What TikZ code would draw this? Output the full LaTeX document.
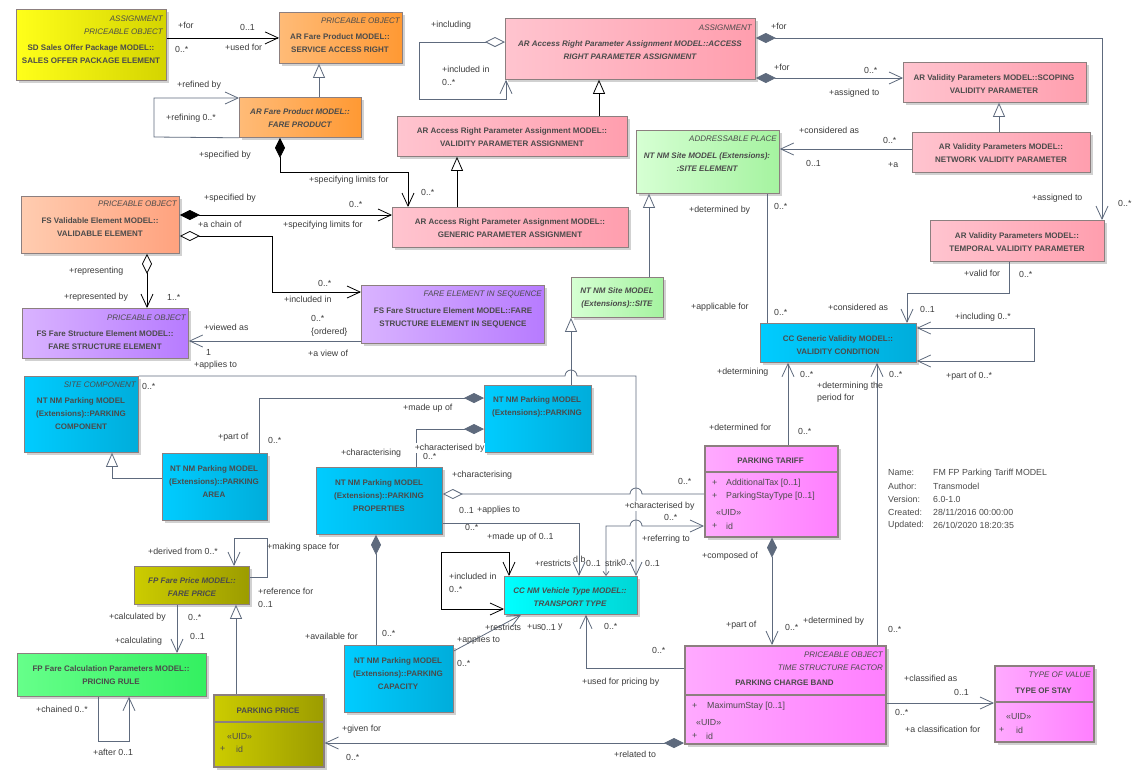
\documentclass[tikz,border=0pt]{standalone}
\usepackage{fontspec}
\setmainfont{Liberation Sans}
\usetikzlibrary{arrows.meta,shadows}
\definecolor{Wire}{HTML}{5E6A7D}
\definecolor{Edge}{HTML}{8C7F7F}
\definecolor{Txt}{HTML}{4B4B4B}
\definecolor{Lab}{HTML}{3C3C3C}
\definecolor{YelL}{HTML}{FFFF1A}
\definecolor{YelR}{HTML}{D4D400}
\definecolor{OrL}{HTML}{FFBB77}
\definecolor{OrR}{HTML}{FF9933}
\definecolor{PkL}{HTML}{FFC4CF}
\definecolor{PkR}{HTML}{FF9EAE}
\definecolor{GrL}{HTML}{D6FFD3}
\definecolor{GrR}{HTML}{A5F3A0}
\definecolor{SalL}{HTML}{FFCCB0}
\definecolor{SalR}{HTML}{FFA27E}
\definecolor{PuL}{HTML}{D9B3FF}
\definecolor{PuR}{HTML}{B77BFF}
\definecolor{BlL}{HTML}{00CCFF}
\definecolor{BlR}{HTML}{00ADDB}
\definecolor{CyL}{HTML}{00FFFF}
\definecolor{CyR}{HTML}{00D6D6}
\definecolor{OlL}{HTML}{CCCC00}
\definecolor{OlR}{HTML}{9C9C00}
\definecolor{LgL}{HTML}{66FF8A}
\definecolor{LgR}{HTML}{33F060}
\definecolor{MgL}{HTML}{FFAAFF}
\definecolor{MgR}{HTML}{FF7FFF}

\begin{document}
\begin{tikzpicture}[x=1pt,y=-1pt,
    box/.style={draw=Edge,line width=0.8pt,anchor=north west,inner sep=0pt,
      drop shadow={shadow xshift=3pt,shadow yshift=-3pt,fill=black!18,opacity=1}},
    cls/.style={box,line width=1.6pt},
    ster/.style={font=\fontsize{8}{9}\selectfont\itshape,text=Txt,anchor=east,inner sep=0pt},
    nm/.style={font=\fontsize{8}{13}\selectfont\bfseries,text=Txt,align=center,inner sep=0pt},
    nmi/.style={nm,font=\fontsize{8}{13}\selectfont\bfseries\itshape},
    att/.style={font=\fontsize{8.8}{10}\selectfont,text=Txt,anchor=west,inner sep=0pt},
    lab/.style={font=\fontsize{8.8}{10}\selectfont,text=Lab,anchor=west,inner sep=0pt},
    labw/.style={lab,fill=white,inner sep=0.6pt},
    wire/.style={draw=Wire,line width=0.8pt},
    ink/.style={draw=black,line width=0.8pt},
    tipNav/.tip={Straight Barb[length=13pt,width=12pt]},
    tipSm/.tip={Straight Barb[length=4pt,width=6pt]},
    tipGen/.tip={Triangle[length=14pt,width=12pt,fill=white]},
    tipComp/.tip={Diamond[length=20pt,width=10pt]},
    tipAgg/.tip={Diamond[length=20pt,width=10pt,fill=white]}]
  \fill[white] (0,0) rectangle (1140,777);
  \useasboundingbox (0,0) rectangle (1140,777);

  % --- classes, top rows
  \node[box,left color=YelL,right color=YelR,minimum width=150pt,minimum height=71pt] (sop) at (16,9) {};
  \node[ster] (sopS1) at (163,19) {ASSIGNMENT};
  \node[ster] (sopS2) at (163,32) {PRICEABLE OBJECT};
  \node[nm] (sopT) at (91,54.5) {SD Sales Offer Package MODEL::\\SALES OFFER PACKAGE ELEMENT};

  \node[box,left color=OrL,right color=OrR,minimum width=123pt,minimum height=51pt] (sar) at (279,12) {};
  \node[ster] (sarS) at (400,21) {PRICEABLE OBJECT};
  \node[nm] (sarT) at (340,43.5) {AR Fare Product MODEL::\\SERVICE ACCESS RIGHT};

  \node[box,left color=OrL,right color=OrR,minimum width=122pt,minimum height=40pt] (fprod) at (239,97) {};
  \node[nmi] (fprodT) at (300,118.5) {AR Fare Product MODEL::\\FARE PRODUCT};

  \node[box,left color=PkL,right color=PkR,minimum width=250pt,minimum height=61pt] (arpa) at (505,18) {};
  \node[ster] (arpaS) at (752,28) {ASSIGNMENT};
  \node[nmi] (arpaT) at (630,50.5) {AR Access Right Parameter Assignment MODEL::ACCESS\\RIGHT PARAMETER ASSIGNMENT};

  \node[box,left color=PkL,right color=PkR,minimum width=230pt,minimum height=40pt] (vpa) at (397,116) {};
  \node[nm] (vpaT) at (512,137.5) {AR Access Right Parameter Assignment MODEL::\\VALIDITY PARAMETER ASSIGNMENT};

  \node[box,left color=PkL,right color=PkR,minimum width=236pt,minimum height=40pt] (gpa) at (392,207) {};
  \node[nm] (gpaT) at (510,228.5) {AR Access Right Parameter Assignment MODEL::\\GENERIC PARAMETER ASSIGNMENT};

  \node[box,left color=GrL,right color=GrR,minimum width=143pt,minimum height=63pt] (selem) at (636,130) {};
  \node[ster] (selemS) at (777,139) {ADDRESSABLE PLACE};
  \node[nmi] (selemT) at (707,162) {NT NM Site MODEL (Extensions):\\:SITE ELEMENT};

  \node[box,left color=PkL,right color=PkR,minimum width=183pt,minimum height=40pt] (scope) at (903,62) {};
  \node[nm] (scopeT) at (994,84.5) {AR Validity Parameters MODEL::SCOPING\\VALIDITY PARAMETER};

  \node[box,left color=PkL,right color=PkR,minimum width=178pt,minimum height=40pt] (netw) at (912,132) {};
  \node[nm] (netwT) at (1001,153.5) {AR Validity Parameters MODEL::\\NETWORK VALIDITY PARAMETER};

  \node[box,left color=PkL,right color=PkR,minimum width=174pt,minimum height=41pt] (tempo) at (930,220) {};
  \node[nm] (tempoT) at (1017,242.5) {AR Validity Parameters MODEL::\\TEMPORAL VALIDITY PARAMETER};

  % --- fare structure
  \node[box,left color=SalL,right color=SalR,minimum width=158pt,minimum height=57pt] (valel) at (21,196) {};
  \node[ster] (valelS) at (177,204) {PRICEABLE OBJECT};
  \node[nm] (valelT) at (100,227.5) {FS Validable Element MODEL::\\VALIDABLE ELEMENT};

  \node[box,left color=PuL,right color=PuR,minimum width=166pt,minimum height=50pt] (fse) at (22,308) {};
  \node[ster] (fseS) at (186,318) {PRICEABLE OBJECT};
  \node[nm] (fseT) at (105,340.5) {FS Fare Structure Element MODEL::\\FARE STRUCTURE ELEMENT};

  \node[box,left color=PuL,right color=PuR,minimum width=183pt,minimum height=58pt] (fseis) at (361,285) {};
  \node[ster] (fseisS) at (542,294) {FARE ELEMENT IN SEQUENCE};
  \node[nm] (fseisT) at (453,317.5) {FS Fare Structure Element MODEL::FARE\\STRUCTURE ELEMENT IN SEQUENCE};

  \node[box,left color=GrL,right color=GrR,minimum width=92pt,minimum height=40pt] (site) at (571,277) {};
  \node[nmi] (siteT) at (617,298) {NT NM Site MODEL\\(Extensions)::SITE};

  \node[box,left color=BlL,right color=BlR,minimum width=156pt,minimum height=39pt] (vcond) at (760,323) {};
  \node[nm] (vcondT) at (838,345.5) {CC Generic Validity MODEL::\\VALIDITY CONDITION};

  % --- parking
  \node[box,left color=BlL,right color=BlR,minimum width=114pt,minimum height=76pt] (pcomp) at (24,376) {};
  \node[ster] (pcompS) at (136,385) {SITE COMPONENT};
  \node[nm] (pcompT) at (81,414) {NT NM Parking MODEL\\(Extensions)::PARKING\\COMPONENT};

  \node[box,left color=BlL,right color=BlR,minimum width=107pt,minimum height=67pt] (park) at (484,385) {};
  \node[nm] (parkT) at (537,407) {NT NM Parking MODEL\\(Extensions)::PARKING};

  \node[box,left color=BlL,right color=BlR,minimum width=105pt,minimum height=67pt] (parea) at (162,453) {};
  \node[nm] (pareaT) at (214,482) {NT NM Parking MODEL\\(Extensions)::PARKING\\AREA};

  \node[box,left color=BlL,right color=BlR,minimum width=126pt,minimum height=67pt] (pprop) at (316,467) {};
  \node[nm] (ppropT) at (379,495.5) {NT NM Parking MODEL\\(Extensions)::PARKING\\PROPERTIES};

  \node[box,left color=BlL,right color=BlR,minimum width=109pt,minimum height=67pt] (pcap) at (344,645) {};
  \node[nm] (pcapT) at (398,674) {NT NM Parking MODEL\\(Extensions)::PARKING\\CAPACITY};

  \node[cls,left color=MgL,right color=MgR,minimum width=133pt,minimum height=91pt] (ptar) at (704,445) {};
  \draw[Edge,line width=1.6pt] (ptar.west |- 0,472) -- (ptar.east |- 0,472);
  \node[nm] (ptarT) at (770.5,461) {PARKING TARIFF};
  \node[att] (ptarA1) at (712,483) {+};
  \node[att] (ptarA2) at (726,483) {AdditionalTax [0..1]};
  \node[att] (ptarA3) at (712,496) {+};
  \node[att] (ptarA4) at (726,496) {ParkingStayType [0..1]};
  \node[att] (ptarA5) at (716,513) {«UID»};
  \node[att] (ptarA6) at (712,526) {+};
  \node[att] (ptarA7) at (726,526) {id};

  \node[box,left color=CyL,right color=CyR,minimum width=133pt,minimum height=38pt] (ttype) at (504,576) {};
  \node[nmi] (ttypeT) at (570,597.5) {CC NM Vehicle Type MODEL::\\TRANSPORT TYPE};

  % --- prices
  \node[box,left color=OlL,right color=OlR,minimum width=115pt,minimum height=38pt] (fprice) at (134,566) {};
  \node[nmi] (fpriceT) at (192,587.5) {FP Fare Price MODEL::\\FARE PRICE};

  \node[box,left color=LgL,right color=LgR,minimum width=189pt,minimum height=43pt] (prule) at (17,653) {};
  \node[nm] (pruleT) at (111,675.5) {FP Fare Calculation Parameters MODEL::\\PRICING RULE};

  \node[cls,left color=OlL,right color=OlR,minimum width=110pt,minimum height=72pt] (pprice) at (213,694) {};
  \draw[Edge,line width=1.6pt] (pprice.west |- 0,722) -- (pprice.east |- 0,722);
  \node[nm] (ppriceT) at (268,711) {PARKING PRICE};
  \node[att] (ppriceA1) at (227,737) {«UID»};
  \node[att] (ppriceA2) at (220,749) {+};
  \node[att] (ppriceA3) at (236,749) {id};

  \node[cls,left color=MgL,right color=MgR,minimum width=201pt,minimum height=98pt] (pcb) at (684,645) {};
  \draw[Edge,line width=1.6pt] (pcb.west |- 0,695) -- (pcb.east |- 0,695);
  \node[ster] (pcbS1) at (883,655) {PRICEABLE OBJECT};
  \node[ster] (pcbS2) at (883,668) {TIME STRUCTURE FACTOR};
  \node[nm] (pcbT) at (784.5,683) {PARKING CHARGE BAND};
  \node[att] (pcbA1) at (692,706) {+};
  \node[att] (pcbA2) at (707,706) {MaximumStay [0..1]};
  \node[att] (pcbA3) at (696,723) {«UID»};
  \node[att] (pcbA4) at (692,736) {+};
  \node[att] (pcbA5) at (706,736) {id};

  \node[cls,left color=MgL,right color=MgR,minimum width=99pt,minimum height=76pt] (tstay) at (994,665) {};
  \draw[Edge,line width=1.6pt] (tstay.west |- 0,702) -- (tstay.east |- 0,702);
  \node[ster] (tstayS) at (1091,675) {TYPE OF VALUE};
  \node[nm] (tstayT) at (1043.5,691) {TYPE OF STAY};
  \node[att] (tstayA1) at (1006,717) {«UID»};
  \node[att] (tstayA2) at (999,730) {+};
  \node[att] (tstayA3) at (1016,730) {id};

  % diagram notes
  \foreach \y/\k/\v [count=\i] in {473/Name:/{FM FP Parking Tariff MODEL},
      486/Author:/Transmodel, 499/Version:/6.0-1.0,
      512/Created:/{28/11/2016 00:00:00}, 525/Updated:/{26/10/2020 18:20:35}} {
    \node[att] (key\i) at (888,\y) {\k};
    \node[att] (val\i) at (933,\y) {\v};
  }

  % --- connectors
  \draw[ink,-tipNav] (sop.east |- sar.west) -- (sar.west);
  \draw[wire,-tipGen] (fprod.north -| 319,0) -- (sar.south -| 319,0);
  \draw[wire,-tipNav] (fprod.south west) -- (154,137) -- (154,98) -- (fprod.west |- 0,98);
  \draw[ink,tipComp-tipNav] (fprod.south -| 280,0) -- (280,172) -- (408,172) -- (gpa.north -| 408,0);
  \draw[ink,tipComp-tipNav] (valel.east |- 0,215) -- (gpa.west |- 0,215);
  \draw[ink,tipAgg-tipNav] (valel.east |- 0,236) -- (272,236) -- (272,292) -- (fseis.west |- 0,292);
  \draw[ink,tipAgg-tipNav] (valel.south -| 147,0) -- (fse.north -| 147,0);
  \draw[wire,-tipNav] (fseis.west |- 0,341) -- (fse.east |- 0,341);
  \draw[wire,tipAgg-tipNav] (arpa.west |- 0,42) -- (419,42) -- (419,99) -- (506,99) -- (arpa.south -| 506,0);
  \draw[ink,-tipGen] (vpa.north -| 599,0) -- (arpa.south -| 599,0);
  \draw[ink,-tipGen] (gpa.north -| 457,0) -- (vpa.south -| 457,0);
  \draw[wire,tipComp-tipNav] (arpa.east |- 0,38) -- (1102,38) -- (tempo.north -| 1102,0);
  \draw[wire,tipComp-tipNav] (arpa.east |- 0,78) -- (scope.west |- 0,78);
  \draw[wire,-tipGen] (netw.north -| 999,0) -- (scope.south -| 999,0);
  \draw[wire,-tipNav] (netw.west |- 0,149) -- (selem.east |- 0,149);
  \draw[wire,-tipGen] (site.north -| 649,0) -- (selem.south -| 649,0);
  \draw[wire] (selem.south -| 767,0) -- (vcond.north -| 767,0);
  \draw[wire,-tipNav] (tempo.south -| 1009,0) -- (1009,293) -- (907,293) -- (vcond.north -| 907,0);
  \draw[wire,tipNav-tipNav] (vcond.east |- 0,328) -- (1034,328) -- (1034,361) -- (vcond.east |- 0,361);
  \draw[wire,-tipNav] (ptar.north -| 788,0) -- (vcond.south -| 788,0);
  \draw[wire,-tipNav] (pcb.north -| 877,0) -- (vcond.south -| 877,0);
  \draw[wire,-tipGen] (parea.west |- 0,478) -- (112,478) -- (pcomp.south -| 112,0);
  \draw[wire,-tipNav] (pcomp.north east) -- (565,376)
    arc[start angle=180,end angle=0,radius=6pt] -- (636,376) -- (ttype.north -| 636,0);
  \draw[wire,-tipGen] (park.north -| 571,0) -- (site.south -| 571,0);
  \draw[wire,tipComp-] (park.west |- 0,398) -- (259,398) -- (parea.north -| 259,0);
  \draw[wire,tipComp-] (park.west |- 0,429) -- (416,429) -- (pprop.north -| 416,0);
  \draw[wire,tipAgg-] (pprop.east |- 0,494) -- (630,494)
    arc[start angle=180,end angle=0,radius=6pt] -- (ptar.west |- 0,494);
  \draw[wire,-tipNav] (pprop.east |- 0,523) -- (579,523) -- (ttype.north -| 579,0);
  \draw[wire,tipSm-tipNav] (ttype.north -| 606,0) -- (606,526) -- (630,526)
    arc[start angle=180,end angle=0,radius=6pt] -- (ptar.west |- 0,526);
  \draw[wire,tipComp-] (pprop.south -| 376,0) -- (pcap.north -| 376,0);
  \draw[wire,-tipNav] (pcap.east |- 0,651) -- (ttype.south -| 521,0);
  \draw[ink,tipNav-tipNav] (ttype.north -| 509,0) -- (509,552) -- (441,552) -- (441,609) -- (ttype.west |- 0,609);
  \draw[wire,-tipNav] (pcb.west |- 0,668) -- (586,668) -- (ttype.south -| 586,0);
  \draw[wire,tipComp-tipNav] (ptar.south -| 772,0) -- (pcb.north -| 772,0);
  \draw[wire,-tipNav] (pcb.east |- 0,703) -- (tstay.west |- 0,703);
  \draw[wire,tipComp-tipNav] (pcb.west |- 0,743) -- (pprice.east |- 0,743);
  \draw[wire,-tipNav] (fprice.east |- 0,577) -- (267,577) -- (267,538) -- (234,538) -- (fprice.north -| 234,0);
  \draw[wire,-tipNav] (fprice.south -| 177,0) -- (prule.north -| 177,0);
  \draw[wire,-tipGen] (pprice.north -| 236,0) -- (fprice.south -| 236,0);
  \draw[wire,-tipNav] (prule.south -| 98,0) -- (98,741) -- (129,741) -- (prule.south -| 129,0);

  % --- role names and multiplicities
  \foreach \x/\y/\t [count=\i] in {
    178/25/+for, 240/27/0..1, 175/49/0..*, 225/47/+used for,
    177/85/+refined by, 166/118/+refining 0..*, 199/155/+specified by,
    309/180/+specifying limits for, 204/198/+specified by, 349/204/0..*,
    198/224/+a chain of, 283/225/+specifying limits for,
    431/25/+including, 442/69/+included in, 442/82/0..*, 421/192/0..*,
    689/210/+determined by, 774/206/0..*, 771/26/+for, 774/67/+for,
    864/70/0..*, 829/93/+assigned to, 799/130/+considered as, 883/140/0..*,
    806/163/0..1, 888/165/+a, 1032/198/+assigned to, 1118/203/0..*,
    69/271/+representing, 64/297/+represented by, 167/297/1..*,
    318/283/0..*, 284/299/+included in, 204/327/+viewed as, 311/318/0..*,
    311/332/\{ordered\}, 206/352/1, 308/353/+a view of, 194/365/+applies to,
    142/386/0..*, 218/437/+part of, 268/440/0..*, 341/453/+characterising,
    691/307/+applicable for, 774/312/0..*, 403/408/+made up of,
    717/372/+determining, 709/427/+determined for, 452/475/+characterising,
    678/481/0..*, 964/273/+valid for, 1019/274/0..*, 828/307/+considered as,
    920/309/0..1, 955/317/+including 0..*, 800/374/0..*, 889/374/0..*,
    817/386/+determining the, 817/398/period for, 946/376/+part of 0..*,
    798/431/0..*, 148/551/+derived from 0..*, 267/547/+making space for,
    258/591/+reference for, 258/604/0..1, 109/617/+calculated by,
    188/617/0..*, 115/641/+calculating, 190/636/0..1, 305/636/+available for,
    382/633/0..*, 36/709/+chained 0..*, 93/752/+after 0..1, 342/729/+given for,
    346/757/0..*, 465/527/0..*, 487/537/+made up of 0..1, 642/539/+referring to,
    664/517/0..*, 449/576/+included in, 449/589/0..*, 535/563/+restricts,
    573/559/d b, 586/563/0..1, 605/563/strik, 621/562/0..*, 645/563/0..1,
    485/627/+restricts, 527/627/+us, 541/627/0..1, 558/627/y, 604/626/0..*,
    457/640/+applies to, 457/663/0..*, 652/650/0..*, 582/682/+used for pricing  by,
    614/754/+related to, 702/556/+composed of, 726/625/+part of, 785/627/0..*,
    803/621/+determined by, 888/629/0..*, 904/678/+classified as, 954/692/0..1,
    895/712/0..*, 905/729/+a classification for, 459/510/0..1, 477/510/+applies to} {
    \node[lab] (l\i) at (\x,\y) {\t};
  }
  \node[lab] (m1) at (423,456) {0..*};
  \node[labw] (m2) at (414,448) {+characterised by};
  \node[labw] (m3) at (624,506) {+characterised by};
\end{tikzpicture}
\end{document}
